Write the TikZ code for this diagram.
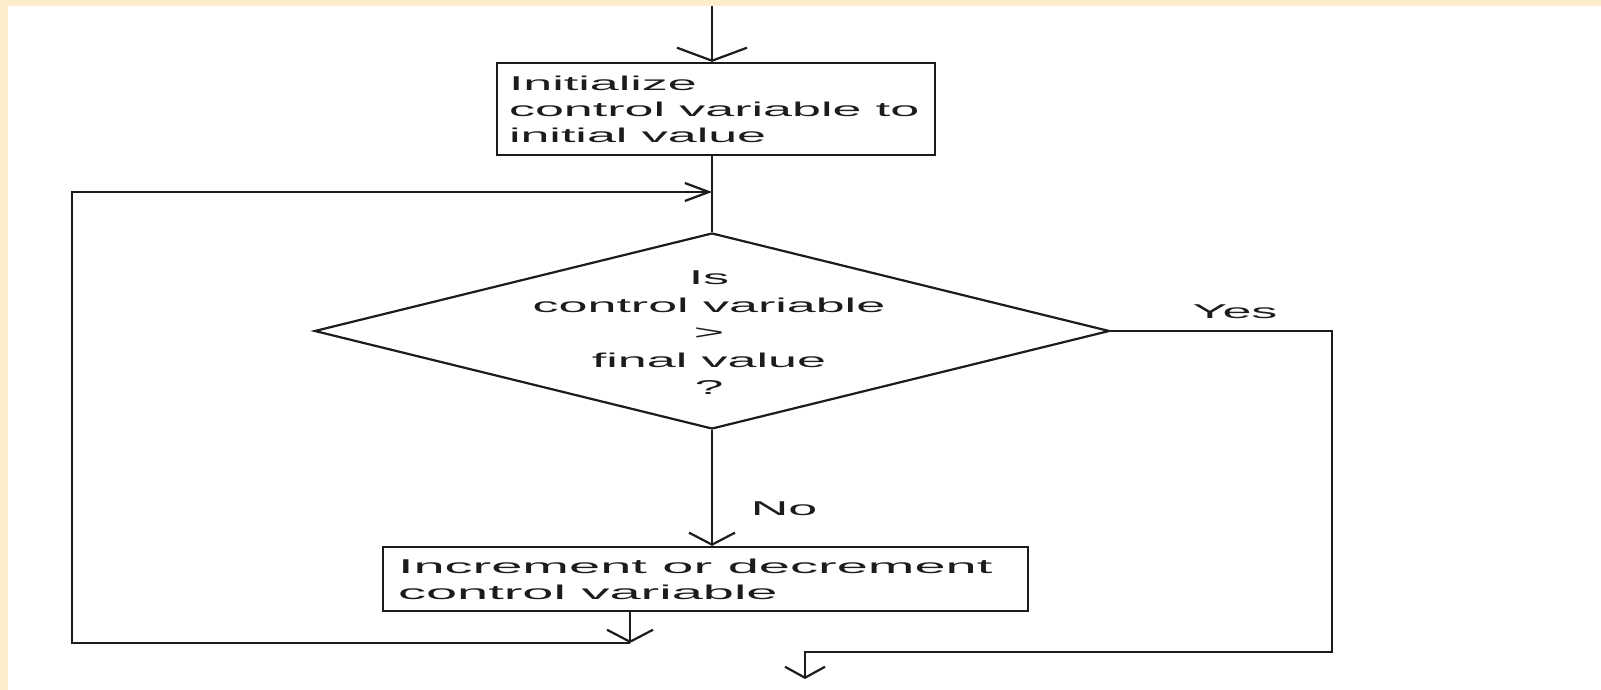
\documentclass[tikz,border=0pt]{standalone}
\usepackage{fontspec}
\setmainfont{Liberation Sans}[FakeStretch=2.6]
\newfontfamily\widesans{Liberation Sans}[FakeStretch=2.8]
\usetikzlibrary{arrows.meta}
\usetikzlibrary{shapes.geometric}
\definecolor{cream}{RGB}{252,238,204}
\definecolor{ink}{RGB}{28,28,28}

\begin{document}
\begin{tikzpicture}[x=1pt,y=-1pt,line width=2.2pt,color=ink,
 box/.style={draw,rectangle,inner sep=0pt},
 boxtext/.style={anchor=west,inner sep=0pt,align=left,
  font=\fontsize{20}{26}\selectfont},
 decision/.style={draw,diamond,inner sep=0pt,
  minimum width=795pt,minimum height=196pt},
 lbl/.style={inner sep=0pt,font=\fontsize{20}{27.5}\selectfont},
 flow/.style={-{Straight Barb[length=12pt,width=46pt]}},
 wideflow/.style={-{Straight Barb[length=13pt,width=70pt]}},
 backflow/.style={-{Straight Barb[length=24pt,width=18pt]}}]

\fill[cream] (0,0) rectangle (1601,690);
\fill[white] (8,6) rectangle (1601,690);
\useasboundingbox (0,0) rectangle (1601,690);

\coordinate (start) at (712,6);
\node[box,minimum width=438pt,minimum height=92pt] (init) at (716,109) {};
\node[boxtext] (inittext) at ([xshift=12pt]init.west)
 {Initialize\\control variable to\\initial value};
\node[decision] (test) at (712,331) {};
\node[lbl,align=center] (question) at (709,333)
 {Is\\control variable\\>\\final value\\?};
\node[box,minimum width=645pt,minimum height=64pt] (incr) at (705.5,579) {};
\node[boxtext,font=\widesans\fontsize{20}{26}\selectfont] (incrtext)
 at ([xshift=15pt]incr.west) {Increment or decrement\\control variable};
\node[lbl] (yes) at (1235,312) {Yes};
\node[lbl] (no) at (784,509) {No};

\coordinate (join) at (712,192);
\coordinate (back) at (630,643);
\coordinate (loopL) at (72,643);
\coordinate (loopT) at (72,192);
\coordinate (yesR) at (1332,652);
\coordinate (yesL) at (805,652);
\coordinate (exit) at (805,679);

\draw[wideflow] (start) -- (start |- init.north);
\draw (init.south -| test.north) -- (test.north);
\draw[flow] (test.south) -- (test.south |- incr.north);
\draw[flow] (back |- incr.south) -- (back);
\draw[backflow] (back) -- (loopL) -- (loopT) -- (join);
\draw[-{Straight Barb[length=11pt,width=40pt]}]
 (test.east) -| (yesR) -- (yesL) -- (exit);
\end{tikzpicture}
\end{document}
